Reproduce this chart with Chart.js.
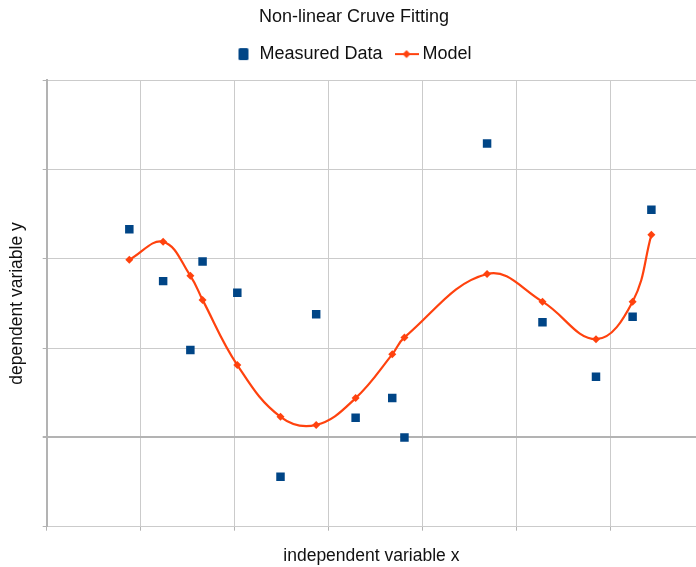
<!DOCTYPE html>
<html>
<head>
<meta charset="utf-8">
<script src="https://cdn.jsdelivr.net/npm/chart.js@4/dist/chart.umd.min.js"></script>
<style>
  html, body { margin: 0; padding: 0; background: #ffffff; }
  canvas { display: block; }
</style>
</head>
<body>
<canvas id="chart" width="696" height="567"></canvas>
<script>
// Sample positions along x (shared by the measurements and the fitted model)
const xValues = [0.88, 1.24, 1.53, 1.66, 2.03, 2.49, 2.87, 3.29, 3.68, 3.81, 4.69, 5.28, 5.85, 6.24, 6.44];
// Observed y values
const measuredY = [2.33, 1.75, 0.98, 1.97, 1.62, -0.44, 1.38, 0.22, 0.44, 0.00, 3.29, 1.29, 0.68, 1.35, 2.55];
// Fitted model evaluated at the same x positions
const modelY = [1.99, 2.19, 1.81, 1.54, 0.81, 0.23, 0.14, 0.44, 0.93, 1.12, 1.83, 1.52, 1.10, 1.52, 2.27];
// Grid positions
const xGridTicks = [0, 1, 2, 3, 4, 5, 6];
const yGridTicks = [-1, 0, 1, 2, 3, 4];

const seriesNames = ['Measured Data', 'Model'];
const chartTitle = 'Non-linear Cruve Fitting';
const xTitle = 'independent variable x';
const yTitle = 'dependent variable y';

const BLUE = '#004586';
const ORANGE = '#ff420e';
const GRID = '#cbcbcb';
const AXIS = '#b3b3b3';
const TEXT = '#111111';
const FONT = '"Liberation Sans", Arial, sans-serif';

const toPoints = (ys) => xValues.map((x, i) => ({ x: x, y: ys[i] }));

// Legend symbols: a filled square, and a line with a diamond
function squareSymbol() {
  const c = document.createElement('canvas');
  c.width = 14; c.height = 14;
  const g = c.getContext('2d');
  g.fillStyle = BLUE;
  g.beginPath();
  g.roundRect(2, 1, 10, 12, 1.5);
  g.fill();
  return c;
}
function lineDiamondSymbol() {
  const c = document.createElement('canvas');
  c.width = 24; c.height = 12;
  const g = c.getContext('2d');
  g.strokeStyle = ORANGE;
  g.lineWidth = 2;
  g.beginPath();
  g.moveTo(0, 6); g.lineTo(24, 6);
  g.stroke();
  g.fillStyle = ORANGE;
  g.beginPath();
  g.moveTo(12, 2); g.lineTo(16, 6); g.lineTo(12, 10); g.lineTo(8, 6);
  g.closePath();
  g.fill();
  return c;
}
const legendSymbols = [squareSymbol(), lineDiamondSymbol()];

new Chart(document.getElementById('chart'), {
  type: 'scatter',
  data: {
    datasets: [
      {
        label: seriesNames[0],
        data: toPoints(measuredY),
        pointStyle: 'rect',
        pointRadius: 6,
        pointHoverRadius: 6,
        pointBorderWidth: 0,
        backgroundColor: BLUE,
        borderColor: BLUE,
        showLine: false,
        order: 2
      },
      {
        label: seriesNames[1],
        data: toPoints(modelY),
        showLine: true,
        tension: 0.4,
        borderColor: ORANGE,
        borderWidth: 2.2,
        backgroundColor: ORANGE,
        pointStyle: 'rectRot',
        pointRadius: 4,
        pointHoverRadius: 4,
        pointBorderWidth: 0,
        order: 1
      }
    ]
  },
  options: {
    responsive: false,
    animation: false,
    devicePixelRatio: 1,
    layout: { autoPadding: false, padding: { left: 2, right: -10, top: 0, bottom: 0 } },
    plugins: {
      tooltip: { enabled: false },
      title: {
        display: true,
        text: chartTitle,
        color: TEXT,
        font: { family: FONT, size: 18, weight: 'normal' },
        padding: { top: 6.5, bottom: 0 }
      },
      // empty spacer between the legend and the plot
      subtitle: {
        display: true,
        text: '',
        weight: 500,
        font: { family: FONT, size: 1 },
        padding: { top: 5.9, bottom: 0 }
      },
      legend: {
        display: true,
        position: 'top',
        labels: {
          color: TEXT,
          font: { family: FONT, size: 18 },
          padding: 17,
          usePointStyle: true,
          pointStyleWidth: 14,
          generateLabels: (chart) => chart.data.datasets.map((ds, i) => ({
            text: ds.label,
            datasetIndex: i,
            pointStyle: legendSymbols[i],
            fillStyle: ds.backgroundColor,
            strokeStyle: ds.borderColor,
            lineWidth: 0,
            fontColor: TEXT,
            hidden: false
          }))
        }
      }
    },
    scales: {
      x: {
        type: 'linear',
        min: 0,
        max: 6.915,
        afterBuildTicks: (scale) => { scale.ticks = xGridTicks.map(v => ({ value: v })); },
        ticks: { display: false },
        grid: { color: GRID, lineWidth: 1, tickLength: 4, tickColor: AXIS },
        border: { color: GRID, width: 1 },
        title: {
          display: true,
          text: xTitle,
          color: TEXT,
          font: { family: FONT, size: 17.5 },
          padding: { top: 15.3, bottom: 0 }
        }
      },
      y: {
        type: 'linear',
        min: -1,
        max: 4,
        afterBuildTicks: (scale) => { scale.ticks = yGridTicks.map(v => ({ value: v })); },
        ticks: { display: false },
        grid: {
          color: (ctx) => (ctx.tick && ctx.tick.value === 0 ? AXIS : GRID),
          lineWidth: (ctx) => (ctx.tick && ctx.tick.value === 0 ? 2 : 1),
          tickLength: 4,
          tickColor: AXIS
        },
        border: { color: AXIS, width: 2 },
        title: {
          display: true,
          text: yTitle,
          color: TEXT,
          font: { family: FONT, size: 17.5 },
          padding: { top: 5, bottom: 14.7 }
        }
      }
    }
  }
});
</script>
</body>
</html>
